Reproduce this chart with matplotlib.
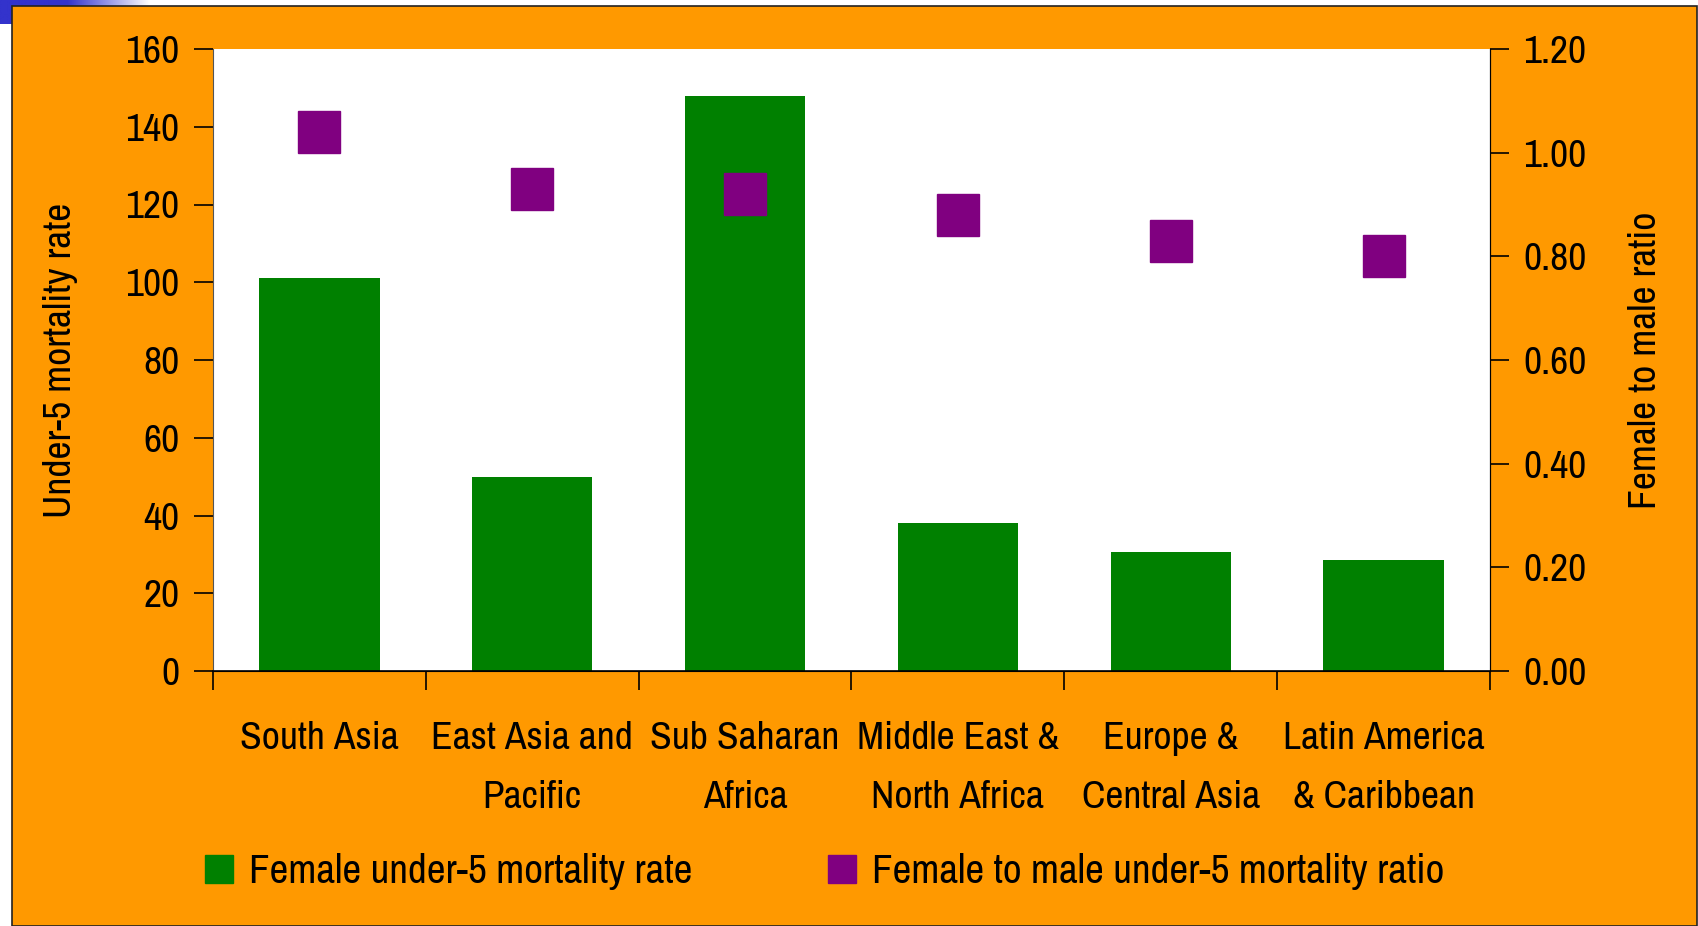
import numpy as np
import matplotlib
matplotlib.use("Agg")
import matplotlib.pyplot as plt
from matplotlib.patches import Rectangle, Patch

# data
regions = ["South Asia", "East Asia and\nPacific", "Sub Saharan\nAfrica",
           "Middle East &\nNorth Africa", "Europe &\nCentral Asia",
           "Latin America\n& Caribbean"]
mortality_rate = [101, 50, 148, 38, 30.5, 28.5]
female_male_ratio = [1.04, 0.93, 0.92, 0.88, 0.83, 0.80]
left_ticks = [0, 20, 40, 60, 80, 100, 120, 140, 160]
right_ticks = [0.0, 0.2, 0.4, 0.6, 0.8, 1.0, 1.2]

plt.rcParams['font.family'] = ['Archivo Narrow', 'DejaVu Sans']
fs = 28.5

W, H = 1699, 926
fig = plt.figure(figsize=(W / 100, H / 100), dpi=100, facecolor="white")

# blue gradient strip in the top-left corner (slide decoration)
gax = fig.add_axes([0, 1 - 24 / H, 150 / W, 24 / H])
grad = np.linspace(0, 1, 256)
alpha = np.clip((grad - 0.45) / 0.55, 0, 1)
img = np.ones((1, 256, 3))
blue = np.array([0.2, 0.2, 0.8])
img[0] = blue[None, :] * (1 - alpha[:, None]) + alpha[:, None]
gax.imshow(img, aspect="auto", extent=[0, 1, 0, 1])
gax.axis("off")

# orange panel
fig.add_artist(Rectangle((12 / W, 0), (W - 14) / W, 1 - 6 / H,
                         transform=fig.transFigure, facecolor="#FF9900",
                         edgecolor="#222222", linewidth=1.2, zorder=1))

ax = fig.add_axes([213 / W, 1 - 671 / H, (1490 - 213) / W, (671 - 49) / H])
ax.set_facecolor("white")
ax.set_zorder(2)
x = np.arange(len(regions))
ax.bar(x, mortality_rate, width=0.565, color="#008000", zorder=2)
ax.set_xlim(-0.5, len(regions) - 0.5)
ax.set_ylim(0, 160)
ax.set_yticks(left_ticks)
ax.set_yticklabels([str(t) for t in left_ticks])
ax.tick_params(axis="y", direction="out", length=14, width=1.2, labelsize=fs, pad=10)
ax.set_ylabel("Under-5 mortality rate", fontsize=fs, labelpad=34)

ax.set_xticks(np.arange(len(regions) + 1) - 0.5)
ax.set_xticklabels([])
ax.tick_params(axis="x", which="major", direction="out", length=14, width=1.2)
ax.set_xticks(x, minor=True)
ax.set_xticklabels(regions, minor=True, fontsize=fs, linespacing=1.85)
ax.tick_params(axis="x", which="minor", length=0, pad=36)

ax.spines["top"].set_visible(False)
ax.spines["left"].set_color("#555555")
ax.spines["bottom"].set_linewidth(1.2)

ax2 = ax.twinx()
ax2.plot(x, female_male_ratio, linestyle="none", marker="s", markersize=30,
         color="#800080", zorder=3)
ax2.set_ylim(0, 1.2)
ax2.set_yticks(right_ticks)
ax2.set_yticklabels(["%.2f" % t for t in right_ticks])
ax2.tick_params(axis="y", direction="out", length=14, width=1.2, labelsize=fs, pad=10)
ax2.set_ylabel("Female to male ratio", fontsize=fs, labelpad=30)
ax2.spines["top"].set_visible(False)
ax2.spines["left"].set_visible(False)

handles = [Patch(facecolor="#008000", edgecolor="#008000"),
           Patch(facecolor="#800080", edgecolor="#800080")]
fig.legend(handles, ["Female under-5 mortality rate",
                     "Female to male under-5 mortality ratio"],
           loc="center left", bbox_to_anchor=(168 / W, 1 - 872 / H),
           ncol=2, frameon=False, fontsize=29.5, handlelength=0.68,
           handleheight=0.68, handletextpad=0.4, columnspacing=3.3)

fig.savefig("out.png", dpi=100, facecolor=fig.get_facecolor())
